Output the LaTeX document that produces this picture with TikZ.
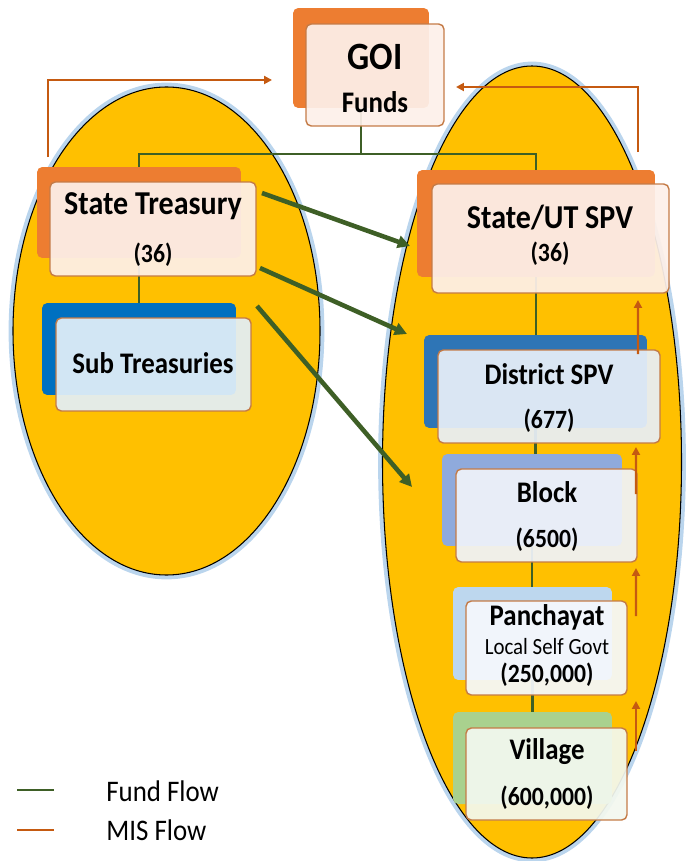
\documentclass[tikz,border=0pt]{standalone}
\usepackage{fontspec}
\setmainfont{Carlito}[FakeStretch=0.9]
\usetikzlibrary{arrows.meta,backgrounds}

\definecolor{oval}{HTML}{FFC000}
\definecolor{glow}{HTML}{9DC3E6}
\definecolor{orangeback}{HTML}{ED7D31}
\definecolor{blueback}{HTML}{2E75B6}
\definecolor{subback}{HTML}{0070C0}
\definecolor{blockback}{HTML}{8FAADC}
\definecolor{panchback}{HTML}{BDD7EE}
\definecolor{villback}{HTML}{A9D18E}
\definecolor{peach}{HTML}{FDF0E9}
\definecolor{bluefront}{HTML}{E8EFF8}
\definecolor{subfront}{HTML}{E2EFF8}
\definecolor{blockfront}{HTML}{EFF3FA}
\definecolor{panchfront}{HTML}{F5F8FC}
\definecolor{villfront}{HTML}{F3F8EF}
\definecolor{edgebrown}{HTML}{C47B47}
\definecolor{fundgreen}{HTML}{3E5F26}
\definecolor{misorange}{HTML}{C55A11}

\begin{document}
\begin{tikzpicture}[x=0.02cm,y=-0.02cm]
\tikzset{backbox/.style={rounded corners=3pt, inner sep=0pt, outer sep=0pt},
	frontbox/.style={draw=edgebrown, line width=0.8pt, rounded corners=3pt,
		inner sep=0pt, outer sep=0pt, fill opacity=0.93},
	goitxt/.style={font=\bfseries\fontsize{22}{26}\selectfont, inner sep=0pt},
	bigtxt/.style={font=\bfseries\fontsize{19}{23}\selectfont, inner sep=0pt},
	midtxt/.style={font=\bfseries\fontsize{17}{20}\selectfont, inner sep=0pt},
	numtxt/.style={font=\bfseries\fontsize{15}{18}\selectfont, inner sep=0pt},
	smalltxt/.style={font=\fontsize{13.2}{16}\selectfont, inner sep=0pt},
	legendtxt/.style={font=\fontsize{17}{20}\selectfont, inner sep=0pt, anchor=west},
	fund/.style={draw=fundgreen, line width=1.2pt},
	fundarrow/.style={draw=fundgreen, line width=2.6pt, -{Triangle[length=7pt,width=7pt]}},
	mis/.style={draw=misorange, line width=1.2pt},
	misarrow/.style={mis, -{Triangle[length=4.5pt,width=4.5pt]}}}

\useasboundingbox (0,0) rectangle (687,861);

%% GOI
\node[backbox, fill=orangeback, minimum width=2.72cm, minimum height=2cm] (GOIb) at (361,58) {};
\node[frontbox, fill=peach, minimum width=2.76cm, minimum height=2.04cm] (GOIf) at (375,75) {};
\node[goitxt] (GOIt) at (375,57) {GOI};
\node[midtxt] (GOIs) at (375,102) {Funds};

%% LEFT SIDE
\node[backbox, fill=orangeback, minimum width=4.08cm, minimum height=1.82cm] (STb) at (139,212.5) {};
\node[frontbox, fill=peach, minimum width=4.12cm, minimum height=1.88cm] (STf) at (153,229) {};
\node[bigtxt] (STt) at (153,206) {State Treasury};
\node[numtxt] (STn) at (153,255) {(36)};

\node[backbox, fill=subback, minimum width=3.88cm, minimum height=1.84cm] (SUBb) at (139,349) {};
\node[frontbox, fill=subfront, minimum width=3.9cm, minimum height=1.86cm] (SUBf) at (153.5,364.5) {};
\node[midtxt] (SUBt) at (153,363) {Sub Treasuries};

%% RIGHT SIDE
\node[backbox, fill=orangeback, minimum width=4.76cm, minimum height=2.14cm] (SPVb) at (536,223.5) {};
\node[frontbox, fill=peach, minimum width=4.74cm, minimum height=2.18cm] (SPVf) at (550.5,238.5) {};
\node[bigtxt] (SPVt) at (550,218) {State/UT SPV};
\node[numtxt] (SPVn) at (550,254) {(36)};

\node[backbox, fill=blueback, minimum width=4.46cm, minimum height=1.86cm] (DISTb) at (535.5,381.5) {};
\node[frontbox, fill=bluefront, minimum width=4.44cm, minimum height=1.86cm] (DISTf) at (549,396.5) {};
\node[midtxt] (DISTt) at (549,374) {District SPV};
\node[numtxt] (DISTn) at (549,421) {(677)};

\node[backbox, fill=blockback, minimum width=3.6cm, minimum height=1.84cm] (BLKb) at (532,500) {};
\node[frontbox, fill=blockfront, minimum width=3.62cm, minimum height=1.86cm] (BLKf) at (546.5,515.5) {};
\node[midtxt] (BLKt) at (547,492) {Block};
\node[numtxt] (BLKn) at (547,540) {(6500)};

\node[backbox, fill=panchback, minimum width=3.18cm, minimum height=1.86cm] (PANb) at (532.5,633.5) {};
\node[frontbox, fill=panchfront, minimum width=3.22cm, minimum height=1.88cm] (PANf) at (546.5,648) {};
\node[midtxt] (PANt) at (547,617) {Panchayat};
\node[smalltxt] (PANs) at (547,647) {Local Self Govt};
\node[numtxt] (PANn) at (547,675) {(250,000)};

\node[backbox, fill=villback, minimum width=3.18cm, minimum height=1.84cm] (VILb) at (532.5,758) {};
\node[frontbox, fill=villfront, minimum width=3.22cm, minimum height=1.84cm] (VILf) at (546.5,774) {};
\node[midtxt] (VILt) at (547,752) {Village};
\node[numtxt] (VILn) at (547,798) {(600,000)};

%% OVALS AND FUND LINES
\begin{scope}[on background layer]
	\draw[glow, line width=5pt, opacity=0.7] (166.5,331) ellipse [x radius=153.5, y radius=244];
	\draw[glow, line width=5pt, opacity=0.7] (532,462) ellipse [x radius=149.5, y radius=396];
	\draw[fill=oval, line width=0.6pt] (166.5,331) ellipse [x radius=153.5, y radius=244];
	\draw[fill=oval, line width=0.6pt] (532,462) ellipse [x radius=149.5, y radius=396];
	\coordinate (fork) at (361,154);
	\draw[fund] (GOIb.south) -- (fork);
	\draw[fund] (fork) -| (STb.north);
	\draw[fund] (fork) -| (SPVb.north);
	\draw[fund] (STb.south) -- (SUBb.north);
	\draw[fund] (SPVb.south) -- (SPVb.south |- DISTb.north);
	\draw[fund] (DISTb.south) -- (DISTb.south |- BLKb.north);
	\draw[fund] (BLKb.south) -- (BLKb.south |- PANb.north);
	\draw[fund] (PANb.south) -- (PANb.south |- VILb.north);
\end{scope}

%% FUND FLOW
\draw[fundarrow] ([shift={(6,11)}]STf.north east) -- ([shift={(-7,22.5)}]SPVb.west);
\draw[fundarrow] ([shift={(4,-8)}]STf.south east) -- ([shift={(-17,-1)}]DISTb.north west);
\draw[fundarrow] ([shift={(6,-12)}]SUBf.north east) -- ([shift={(-30,-13)}]BLKb.west);

%% MIS FLOW
\draw[misarrow] ([shift={(11,-10)}]STb.north west) |- ([shift={(-21,22)}]GOIb.west);
\draw[misarrow] ([shift={(-17,-18)}]SPVb.north east) |- ([shift={(12,12)}]GOIf.east);
\draw[misarrow] ([shift={(-22,4)}]DISTf.north east) -- ([shift={(-31,7)}]SPVf.south east);
\draw[misarrow] ([shift={(-1,25)}]BLKf.north east) -- ([shift={(-24,4)}]DISTf.south east);
\draw[misarrow] ([shift={(9,15)}]PANf.north east) -- ([shift={(-1,6)}]BLKf.south east);
\draw[misarrow] ([shift={(9,23)}]VILf.north east) -- ([shift={(9,6)}]PANf.south east);

%% LEGEND
\coordinate (fundL) at (17,790);
\coordinate (fundR) at (54,790);
\coordinate (misL) at (17,830);
\coordinate (misR) at (54,830);
\draw[fund, line width=1.6pt] (fundL) -- (fundR);
\draw[mis, line width=1.6pt] (misL) -- (misR);
\node[legendtxt] (fundlbl) at (106,791) {Fund Flow};
\node[legendtxt] (mislbl) at (106,830) {MIS Flow};

\end{tikzpicture}
\end{document}
